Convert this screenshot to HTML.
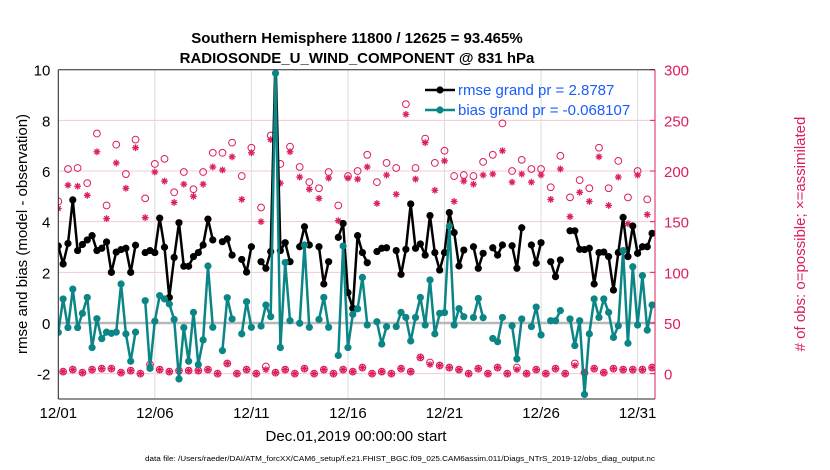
<!DOCTYPE html>
<html><head><meta charset="utf-8"><style>
html,body{margin:0;padding:0;background:#fff;width:830px;height:470px;overflow:hidden}
svg{display:block;font-family:"Liberation Sans",sans-serif}
</style></head><body>
<svg id="chart" width="830" height="470" viewBox="0 0 830 470" xmlns="http://www.w3.org/2000/svg">
<text x="357" y="43" text-anchor="middle" font-size="15" font-weight="bold">Southern Hemisphere 11800 / 12625 = 93.465%</text>
<text x="357" y="63" text-anchor="middle" font-size="15" font-weight="bold">RADIOSONDE_U_WIND_COMPONENT @ 831 hPa</text>
<g id="grid"></g>
<g id="marks"></g>
<g id="axes"></g>
<text transform="translate(27,234) rotate(-90)" text-anchor="middle" font-size="15">rmse and bias (model - observation)</text>
<text transform="translate(805,234) rotate(-90)" text-anchor="middle" font-size="15" fill="#dc1f5a">
# of obs: o=possible; ×=assimilated</text>
<text x="356" y="441" text-anchor="middle" font-size="15">Dec.01,2019 00:00:00 start</text>
<text x="400" y="461" text-anchor="middle" font-size="7" textLength="510" lengthAdjust="spacingAndGlyphs">data file: /Users/raeder/DAI/ATM_forcXX/CAM6_setup/f.e21.FHIST_BGC.f09_025.CAM6assim.011/Diags_NTrS_2019-12/obs_diag_output.nc</text>
<g>
<line x1="425" y1="90" x2="455" y2="90" stroke="#000" stroke-width="2.5"/><circle cx="440" cy="90" r="3.6" fill="#000"/>
<text x="458" y="95" font-size="15" fill="#1a5cff">rmse grand pr = 2.8787</text>
<line x1="425" y1="110" x2="455" y2="110" stroke="#0b8585" stroke-width="2.5"/><circle cx="440" cy="110" r="3.6" fill="#0b8585"/>
<text x="458" y="115" font-size="15" fill="#1a5cff">bias grand pr = -0.068107</text>
</g>
</svg>
<script>
const xTickLabels = ["12/01","12/06","12/11","12/16","12/21","12/26","12/31"];
const xTickDays = [0,5,10,15,20,25,30];
const yLeftTicks = [-2,0,2,4,6,8,10];
const yRightTicks = [0,50,100,150,200,250,300];
const rmse = [3.04,2.33,3.14,4.86,2.86,3.1,3.28,3.45,2.86,2.95,3.2,2.0,2.8,2.9,2.95,2.0,3.07,null,2.78,2.86,2.78,4.14,2.99,1.01,2.59,3.96,2.24,2.24,2.62,2.78,3.08,4.1,3.28,null,3.21,3.32,2.68,null,2.51,2.01,3.01,null,2.42,2.16,2.82,10.5,2.86,3.17,2.42,null,3.01,3.8,3.08,null,3.01,1.54,2.42,null,3.38,3.93,1.2,0.58,3.45,2.78,2.38,null,2.82,2.95,2.97,null,2.86,1.92,2.91,4.7,2.95,3.12,2.68,4.24,2.78,2.09,2.78,4.36,3.57,2.25,2.88,null,3.01,2.16,2.75,null,2.97,2.68,3.08,null,3.05,2.16,3.76,null,3.08,2.36,3.17,null,2.42,1.83,2.49,null,3.64,3.64,2.91,2.9,2.95,1.54,2.78,2.8,2.62,1.3,2.78,4.17,2.62,3.83,2.75,3.01,3.01,3.54];
const bias = [-0.37,0.95,-0.18,1.34,-0.18,0.38,1.01,-0.97,0.17,-0.62,-0.36,-0.41,-0.36,1.54,-0.43,-1.51,-0.36,null,0.88,-1.79,0.07,1.08,0.95,0.75,0.14,-2.21,-0.18,-1.51,0.42,-1.64,-0.67,2.25,-0.17,null,-1.09,1.0,0.16,null,-0.43,0.84,-0.17,null,-0.12,0.71,0.25,9.86,-0.97,2.39,0.09,null,-0.01,3.08,-0.17,null,0.14,1.01,-0.17,null,-1.28,3.04,-0.97,0.34,0.56,1.8,-0.08,null,0.05,-0.83,-0.14,null,-0.14,0.42,0.22,-0.71,0.22,1.01,-0.08,1.7,-0.43,0.38,0.41,3.83,-0.08,0.57,0.25,null,0.22,0.97,0.21,null,-0.61,-0.74,0.22,null,-0.11,-1.42,0.16,null,-0.14,0.63,-0.47,null,0.09,0.09,0.49,null,0.16,-0.89,0.09,-2.82,-0.43,0.95,0.22,0.95,0.42,-0.57,-0.11,2.86,-0.8,2.22,-0.08,1.87,-0.28,0.71];
const possibleMain = [170,202,203,188,237,166,226,197,231,173,207,212,179,199,182,199,218,218,228,195,223,164,235,207,224,204,189,183,199,166,195,200,216,189,208,203,266,203,232,208,220,195,196,195,209,216,247,200,211,202,202,184,215,174,191,183,223,183,210,174,200,172];
const assimMain = [163,186,185,176,219,153,208,183,223,154,199,190,169,187,175,187,204,201,214,172,218,150,231,188,219,194,182,173,193,151,193,192,204,168,196,177,256,192,228,181,210,170,190,187,196,197,220,189,197,189,196,172,202,155,179,170,214,166,194,148,196,157];
const possibleOff = [2,4,1,4,5,5,1,3,0,9,4,2,3,3,3,4,0,10,0,4,0,7,1,4,0,5,0,4,0,4,2,6,0,2,0,5,2,16,11,8,6,4,0,5,0,6,0,6,0,4,0,5,0,10,1,5,1,5,4,4,4,6];
const assimOff = [2,4,1,4,5,5,1,3,0,7,4,2,3,3,3,4,0,10,0,4,0,4,1,4,0,5,0,4,0,4,2,6,0,2,0,5,2,16,9,8,6,4,0,5,0,6,0,4,0,4,0,5,0,8,1,5,1,5,4,4,4,6];

const NS="http://www.w3.org/2000/svg";
const L=58.3,R=655,T=69.7,B=399;
const xDay=d=>L+19.31*d;
const yL=v=>323-25.33*v;
const yC=c=>yL(-2+0.04*c);
const dayOf=i=>i*0.25;
const CR="#dc1f5a",TE="#0b8585";
function el(tag,attrs,parent){const e=document.createElementNS(NS,tag);for(const k in attrs)e.setAttribute(k,attrs[k]);parent.appendChild(e);return e;}
const grid=document.getElementById('grid'),marks=document.getElementById('marks'),axes=document.getElementById('axes');
el('clipPath',{id:'clip'},grid);
el('rect',{x:L,y:T,width:R-L,height:B-T},document.getElementById('clip'));
marks.setAttribute('clip-path','url(#clip)');
yLeftTicks.forEach(v=>{
  if(v!==0 && v!==10){const g=el('line',{x1:L,x2:R,y1:yL(v),y2:yL(v),stroke:'#f2c9d6','stroke-width':1},grid);
  
  }
  const t=el('text',{x:L-8,y:yL(v)+6,'text-anchor':'end','font-size':15},axes);t.textContent=v;
  
  
});
yRightTicks.forEach(c=>{
  el('line',{x1:R-5,x2:R,y1:yC(c),y2:yC(c),stroke:CR,'stroke-width':1},axes);
  const t=el('text',{x:R+9,y:yC(c)+6,'font-size':15,fill:CR},axes);t.textContent=c;
  
  
});
xTickDays.forEach((d,k)=>{
  const g=el('line',{x1:xDay(d),x2:xDay(d),y1:T,y2:B,stroke:'#dcdcdc','stroke-width':1},grid);
  
  
  const t=el('text',{x:xDay(d),y:418,'text-anchor':'middle','font-size':15},axes);t.textContent=xTickLabels[k];
  
  
});
const zl=el('line',{x1:L,x2:R,y1:yL(0),y2:yL(0),stroke:'#b8b8b8','stroke-width':2.5},grid);


el('line',{x1:L,x2:L,y1:T,y2:B,stroke:'#262626','stroke-width':1},axes);
el('line',{x1:L,x2:R,y1:T,y2:T,stroke:'#262626','stroke-width':1},axes);
el('line',{x1:L,x2:R,y1:B,y2:B,stroke:'#262626','stroke-width':1},axes);
el('line',{x1:R,x2:R,y1:T,y2:B,stroke:CR,'stroke-width':1},axes);

function circleO(x,y,name){const c=el('circle',{cx:x,cy:y,r:3.4,fill:'none',stroke:CR,'stroke-width':1},marks);
  
  }
function star(x,y,name){const g=el('g',{stroke:CR,'stroke-width':1.3},marks);
  
  
  const s=3.4;el('line',{x1:x-s,x2:x+s,y1:y,y2:y},g);el('line',{x1:x,x2:x,y1:y-s,y2:y+s},g);
  el('line',{x1:x-s*0.7,x2:x+s*0.7,y1:y-s*0.7,y2:y+s*0.7},g);el('line',{x1:x-s*0.7,x2:x+s*0.7,y1:y+s*0.7,y2:y-s*0.7},g);}
possibleMain.forEach((c,k)=>circleO(xDay(dayOf(2*k)),yC(c),'possible-obs-marker'));
assimMain.forEach((c,k)=>star(xDay(dayOf(2*k)),yC(c),'assimilated-obs-marker'));
possibleOff.forEach((c,k)=>circleO(xDay(dayOf(2*k+1)),yC(c),'possible-obs-marker'));
assimOff.forEach((c,k)=>star(xDay(dayOf(2*k+1)),yC(c),'assimilated-obs-marker'));

function series(arr,color,name){
  let d='',pen=false;
  arr.forEach((v,i)=>{if(v===null){pen=false;return;}d+=(pen?'L':'M')+xDay(dayOf(i)).toFixed(1)+','+yL(v).toFixed(1);pen=true;});
  const p=el('path',{d:d,fill:'none',stroke:color,'stroke-width':2.5,'stroke-linejoin':'round'},marks);
  
  
  arr.forEach((v,i)=>{if(v===null)return;
    const c=el('circle',{cx:xDay(dayOf(i)),cy:yL(v),r:3.6,fill:color},marks);
    
    });
}
series(rmse,'#000','rmse');
series(bias,TE,'bias');
</script>
</body></html>
